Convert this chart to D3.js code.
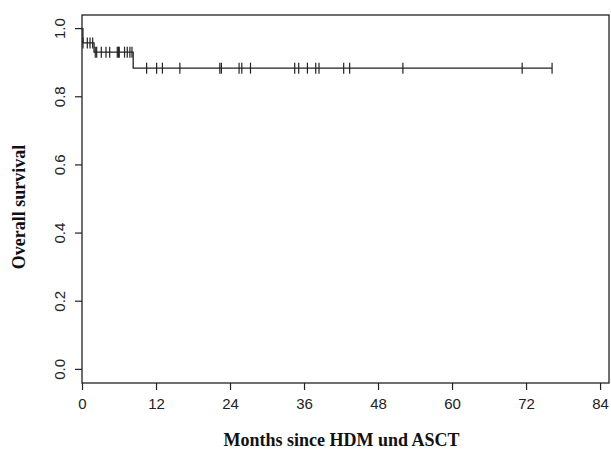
<!DOCTYPE html>
<html>
<head>
<meta charset="utf-8">
<script src="https://cdn.jsdelivr.net/npm/d3@7"></script>
<style>
  html, body { margin: 0; padding: 0; background: #fff; }
  svg { display: block; }
  .tick-label { font-family: 'Liberation Sans', Arial, sans-serif; font-size: 15px; fill: #222; }
  .axis-title { font-family: 'Liberation Serif', 'Times New Roman', serif; font-size: 18px; font-weight: bold; fill: #111; }
</style>
</head>
<body>
<svg id="chart" width="611" height="450"></svg>
<script>
// Kaplan-Meier steps (months, survival)
const eventTimes = [0, 0.15, 1.95, 8.3];
const survival = [1.0, 0.958, 0.931, 0.884];

// censored observations (months)
const censorTimes = [
  0.16, 0.86, 1.3, 1.73,
  2.15, 2.38, 3.13, 3.89, 4.49, 5.72, 5.91, 6.04, 6.9, 7.34, 7.77, 8.1,
  10.48, 12.1, 13.04, 15.87, 22.35, 22.6, 25.47, 25.91, 27.32,
  34.49, 35.14, 36.55, 37.9, 38.43, 42.43, 43.4, 52.03, 71.37, 76.22
];

const xTicks = [0, 12, 24, 36, 48, 60, 72, 84];
const yTicks = [0.0, 0.2, 0.4, 0.6, 0.8, 1.0];

const margin = { top: 15, right: 2, bottom: 67, left: 82 };
const W = 611, H = 450;

const svg = d3.select('#chart');

const x = d3.scaleLinear()
  .domain([0, 85.45])
  .range([margin.left, W - margin.right]);

const y = d3.scaleLinear()
  .domain([-0.04, 1.04])
  .range([H - margin.bottom, margin.top]);

const ink = '#222';

// plot box
svg.append('rect')
  .attr('x', x.range()[0])
  .attr('y', y.range()[1])
  .attr('width', x.range()[1] - x.range()[0])
  .attr('height', y.range()[0] - y.range()[1])
  .attr('fill', 'none')
  .attr('stroke', ink)
  .attr('stroke-width', 1.3);

// x axis
const axisX = d3.axisBottom(x)
  .tickValues(xTicks)
  .tickSize(7)
  .tickPadding(8)
  .tickFormat(d3.format('d'));

const gx = svg.append('g')
  .attr('transform', `translate(0,${y.range()[0]})`)
  .call(axisX);
gx.select('.domain').remove();
gx.selectAll('line').attr('stroke', ink).attr('stroke-width', 1.2);
gx.selectAll('text')
  .attr('class', 'tick-label')
  .attr('fill', null)
  .attr('font-size', null)
  .attr('font-family', null);

// y axis ticks with rotated labels
const gy = svg.append('g');
gy.selectAll('line')
  .data(yTicks)
  .join('line')
  .attr('x1', margin.left - 7)
  .attr('x2', margin.left)
  .attr('y1', d => y(d))
  .attr('y2', d => y(d))
  .attr('stroke', ink)
  .attr('stroke-width', 1.2);

gy.selectAll('text')
  .data(yTicks)
  .join('text')
  .attr('class', 'tick-label')
  .attr('text-anchor', 'middle')
  .attr('transform', d => `translate(${margin.left - 17},${y(d)}) rotate(-90)`)
  .text(d => d3.format('.1f')(d));

// survival curve
const stepPts = eventTimes.map((t, i) => [t, survival[i]]);
const lastTime = d3.max(censorTimes);
stepPts.push([lastTime, survival[survival.length - 1]]);

const line = d3.line()
  .x(d => x(d[0]))
  .y(d => y(d[1]))
  .curve(d3.curveStepAfter);

svg.append('path')
  .datum(stepPts)
  .attr('d', line)
  .attr('fill', 'none')
  .attr('stroke', ink)
  .attr('stroke-width', 1.3);

// censor marks
function survAt(t) {
  let s = survival[0];
  eventTimes.forEach((e, i) => { if (t >= e) s = survival[i]; });
  return s;
}

svg.append('g')
  .selectAll('line')
  .data(censorTimes)
  .join('line')
  .attr('x1', d => x(d))
  .attr('x2', d => x(d))
  .attr('y1', d => y(survAt(d)) - 5.5)
  .attr('y2', d => y(survAt(d)) + 5.5)
  .attr('stroke', ink)
  .attr('stroke-width', 1.2);

// axis titles
svg.append('text')
  .attr('class', 'axis-title')
  .attr('text-anchor', 'middle')
  .attr('x', (x.range()[0] + x.range()[1]) / 2 - 4)
  .attr('y', 446)
  .text('Months since HDM und ASCT');

svg.append('text')
  .attr('class', 'axis-title')
  .attr('text-anchor', 'middle')
  .attr('transform', `translate(25,207) rotate(-90)`)
  .text('Overall survival');
</script>
</body>
</html>
